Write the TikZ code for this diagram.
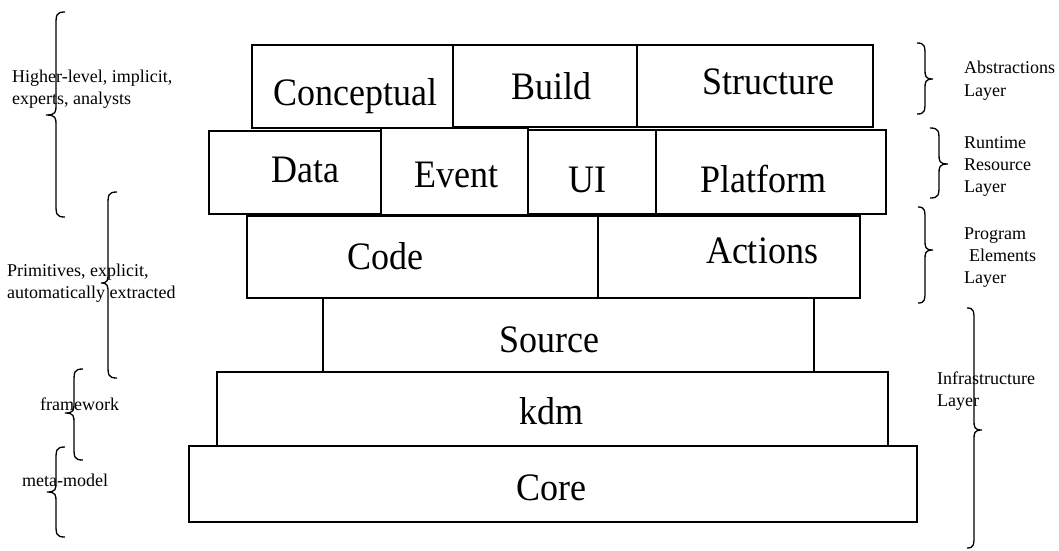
\documentclass[tikz,border=0pt]{standalone}
\usepackage{fontspec}
\usepackage{graphicx}
\setmainfont{Liberation Serif}
\newcommand{\bigtxt}{\fontsize{36}{40}\selectfont}
\newcommand{\smalltxt}{\fontsize{18}{22}\selectfont}
\newcommand{\tallt}[1]{\scalebox{1}[1.08]{#1}}
% brace: end x, vertical x, cusp x, top y, mid y, bottom y
\newcommand{\bracel}[6]{%
  \draw[bracestyle] (#1,#4) .. controls (#2,#4) and (#2,#4+3) .. (#2,#4+14) -- (#2,#5-10)
    .. controls (#2,#5-3) and (#2,#5) .. (#3,#5) .. controls (#2,#5) and (#2,#5+3) .. (#2,#5+10)
    -- (#2,#6-14) .. controls (#2,#6-3) and (#2,#6) .. (#1,#6);}
\begin{document}
\begin{tikzpicture}[x=1pt,y=-1pt,
  boxline/.style={draw=black,line width=1.4pt},
  bracestyle/.style={draw=black,line width=1.3pt},
  big/.style={font=\bigtxt,inner sep=0pt,anchor=base},
  lbl/.style={font=\smalltxt,inner sep=0pt,anchor=base west}]
\useasboundingbox (0,0) rectangle (1059,550);

% boxes
\draw[boxline] (252,45) rectangle (453,128);
\draw[boxline] (453,45) rectangle (637,127);
\draw[boxline] (637,45) rectangle (873,127);
\draw[boxline] (209,131) rectangle (381,214);
\draw[boxline] (381,128) rectangle (528,215);
\draw[boxline] (528,130) rectangle (656,214);
\draw[boxline] (656,130) rectangle (886,214);
\draw[boxline] (247,216) rectangle (598,298);
\draw[boxline] (598,216) rectangle (860,298);
\draw[boxline] (323,298) rectangle (814,372);
\draw[boxline] (217,372) rectangle (888,446);
\draw[boxline] (189,446) rectangle (917,522);

% box labels
\node[big] (conceptual) at (355,105) {\tallt{Conceptual}};
\node[big] (build) at (551,99) {\tallt{Build}};
\node[big] (structure) at (768,94) {\tallt{Structure}};
\node[big] (data) at (305,182) {\tallt{Data}};
\node[big] (event) at (456,187) {\tallt{Event}};
\node[big] (ui) at (587,192) {\tallt{UI}};
\node[big] (platform) at (763,192) {\tallt{Platform}};
\node[big] (code) at (385,269) {\tallt{Code}};
\node[big] (actions) at (762,263) {\tallt{Actions}};
\node[big] (source) at (549,352) {\tallt{Source}};
\node[big] (kdm) at (551,424) {\tallt{kdm}};
\node[big] (core) at (551,500) {\tallt{Core}};

% left braces
\bracel{65}{56}{46}{12}{115}{217}
\bracel{117}{108}{101}{192}{283}{378}
\bracel{83}{74}{65}{369}{413}{460}
\bracel{65}{56}{47}{447}{492}{537}

% right braces
\bracel{917}{925}{933}{43}{79}{114}
\bracel{930}{939}{948}{128}{164}{198}
\bracel{918}{925}{933}{207}{250}{303}
\bracel{967}{974}{982}{308}{430}{548}

% left labels
\node[lbl] (hl1) at (12,82) {Higher-level, implicit,};
\node[lbl] (hl2) at (12,104) {experts, analysts};
\node[lbl] (pr1) at (7,276) {Primitives, explicit,};
\node[lbl] (pr2) at (7,298) {automatically extracted};
\node[lbl] (fw) at (40,410) {framework};
\node[lbl] (mm) at (22,486) {meta-model};

% right labels
\node[lbl] (ab1) at (964,73) {Abstractions};
\node[lbl] (ab2) at (964,96) {Layer};
\node[lbl] (rt1) at (964,148) {Runtime};
\node[lbl] (rt2) at (964,170) {Resource};
\node[lbl] (rt3) at (964,192) {Layer};
\node[lbl] (pe1) at (964,239) {Program};
\node[lbl] (pe2) at (969,261) {Elements};
\node[lbl] (pe3) at (964,283) {Layer};
\node[lbl] (in1) at (937,384) {Infrastructure};
\node[lbl] (in2) at (937,406) {Layer};
\end{tikzpicture}
\end{document}
